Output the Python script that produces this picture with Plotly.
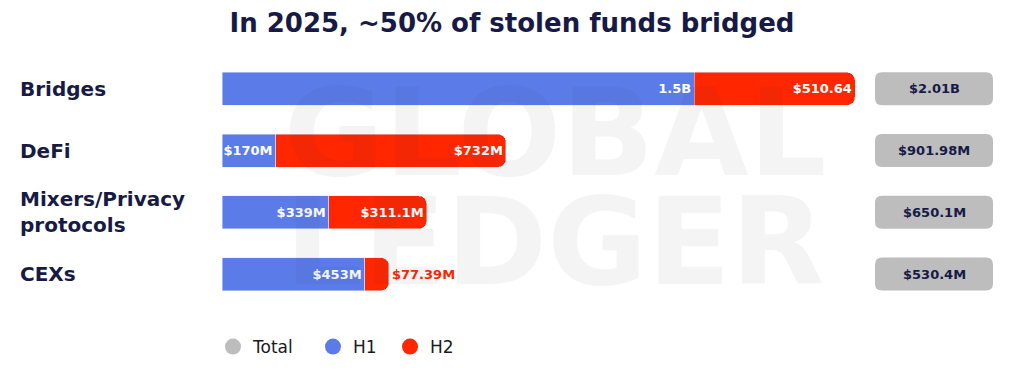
import plotly.graph_objects as go

# ---- data ----
categories = ["Bridges", "DeFi", "Mixers/Privacy<br>protocols", "CEXs"]
h1_values = [1500, 170, 339, 453]            # $M
h2_values = [510.64, 732, 311.1, 77.39]      # $M
h1_labels = ["1.5B", "$170M", "$339M", "$453M"]
h2_labels = ["$510.64", "$732M", "$311.1M", "$77.39M"]
total_labels = ["$2.01B", "$901.98M", "$650.1M", "$530.4M"]
legend_names = ["Total", "H1", "H2"]

BLUE = "#5a7be8"
RED = "#ff2600"
GRAY = "#bdbdbd"
NAVY = "#161a45"
FONT = "DejaVu Sans"

W, H = 1024, 389
totals = [a + b for a, b in zip(h1_values, h2_values)]

fig = go.Figure()

# H2 small segment label won't fit inside -> outside
h2_pos = ["inside" if v / max(totals) * 633 > 60 else "outside" for v in h2_values]

fig.add_trace(go.Bar(
    y=categories, x=h1_values, orientation="h", marker_color=BLUE,
    text=h1_labels, textposition="inside", insidetextanchor="end",
    textfont=dict(color="white", size=13, family=FONT, weight="bold"),
    constraintext="none", showlegend=False, hoverinfo="skip",
))
fig.add_trace(go.Bar(
    y=categories, x=h2_values, orientation="h", marker_color=RED,
    text=h2_labels, textposition=h2_pos, insidetextanchor="end",
    textfont=dict(color="white", size=13, family=FONT, weight="bold"),
    outsidetextfont=dict(color=RED, size=13, family=FONT, weight="bold"),
    constraintext="none", cliponaxis=False, showlegend=False, hoverinfo="skip",
))

# legend dummies, each in its own legend so spacing matches
legend_ids = ["legend", "legend2", "legend3"]
for name, col, lid in zip(legend_names, [GRAY, BLUE, RED], legend_ids):
    fig.add_trace(go.Scatter(x=[None], y=[None], mode="markers", name=name, legend=lid,
                             marker=dict(color=col, size=22, symbol="circle")))

# total pills
w, h, r = 118, 33, 7
path = (f"M {-w/2+r},{-h/2} L {w/2-r},{-h/2} Q {w/2},{-h/2} {w/2},{-h/2+r} "
        f"L {w/2},{h/2-r} Q {w/2},{h/2} {w/2-r},{h/2} L {-w/2+r},{h/2} "
        f"Q {-w/2},{h/2} {-w/2},{h/2-r} L {-w/2},{-h/2+r} Q {-w/2},{-h/2} {-w/2+r},{-h/2} Z")
pill_x = 934 / W
for cat, lab in zip(categories, total_labels):
    fig.add_shape(type="path", path=path, xref="paper", yref="y",
                  xsizemode="pixel", ysizemode="pixel", xanchor=pill_x, yanchor=cat,
                  fillcolor=GRAY, line_width=0, layer="below")
    fig.add_annotation(x=pill_x, y=cat, xref="paper", yref="y", text=lab,
                       xanchor="center", yanchor="middle", showarrow=False,
                       font=dict(color=NAVY, size=13, family=FONT, weight="bold"))

# category labels
for cat in categories:
    fig.add_annotation(x=18 / W, y=cat, xref="paper", yref="y", text=cat,
                       xanchor="left", yanchor="middle", align="left", showarrow=False,
                       font=dict(color=NAVY, size=20, family=FONT, weight="bold"))

# watermark
for txt, yy in [("GLOBAL", 133), ("LEDGER", 242)]:
    fig.add_annotation(x=555 / W, y=1 - yy / H, xref="paper", yref="paper", text=txt,
                       showarrow=False, opacity=0.05,
                       font=dict(color="#3a3f5a", size=122, family=FONT, weight="bold"))

leg_common = dict(orientation="h", xanchor="left", y=1 - 347 / H, yanchor="middle",
                  font=dict(color="#1a1a1a", size=17, family=FONT), itemwidth=30,
                  bgcolor="rgba(0,0,0,0)")

fig.update_layout(
    width=W, height=H, margin=dict(l=0, r=0, t=0, b=0),
    paper_bgcolor="white", plot_bgcolor="white",
    barmode="stack", bargap=0.465, barcornerradius=8,
    title=dict(text="In 2025, ~50% of stolen funds bridged", x=0.5, xanchor="center",
               y=1 - 23 / H, yanchor="middle",
               font=dict(color=NAVY, size=26, family=FONT, weight="bold")),
    xaxis=dict(domain=[222 / W, 855 / W], range=[0, max(totals)], visible=False,
               fixedrange=True),
    yaxis=dict(domain=[(H - 305) / H, (H - 58) / H], autorange="reversed",
               visible=False, fixedrange=True),
    legend=dict(x=213 / W, **leg_common),
    legend2=dict(x=313 / W, **leg_common),
    legend3=dict(x=390 / W, **leg_common),
)

fig.write_html("out.html", post_script="document.body.style.margin='0';",
               config={"displayModeBar": False})
